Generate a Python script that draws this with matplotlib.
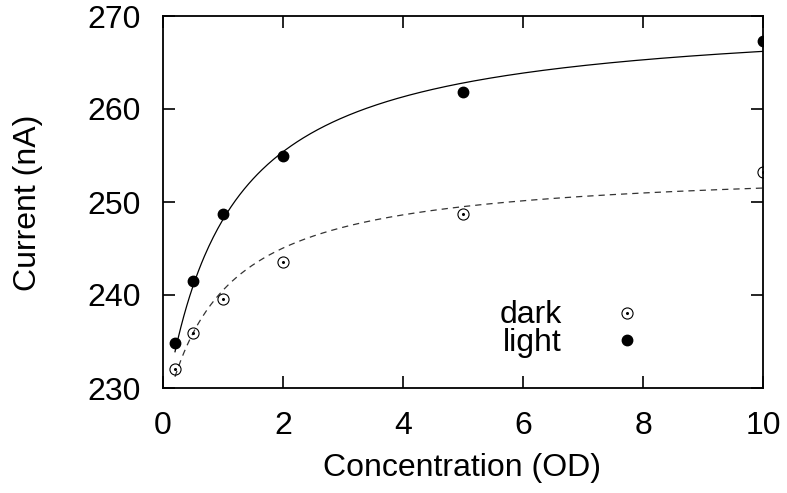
import numpy as np
import matplotlib
matplotlib.use("Agg")
import matplotlib.pyplot as plt

plt.rcParams["font.family"] = ["Liberation Sans", "DejaVu Sans"]

# measured points
conc = [0.2, 0.5, 1.0, 2.0, 5.0, 10.0]
dark = [232.0, 235.9, 239.6, 243.5, 248.7, 253.2]
light = [234.8, 241.5, 248.7, 254.9, 261.8, 267.3]
key_labels = ["dark", "light"]

# saturation fits  y = y0 + A*x/(K+x)
fit_light = (226.95, 43.36, 1.048)
fit_dark = (226.43, 27.45, 0.949)


def sat(x, y0, a, k):
    return y0 + a * x / (k + x)


W, H = 787, 493
fig = plt.figure(figsize=(W / 100, H / 100), dpi=100)
ax = fig.add_axes([163 / W, 1 - 388 / H, 600 / W, 372 / H])

xs = np.linspace(conc[0], conc[-1], 400)
ax.plot(xs, sat(xs, *fit_light), color="black", lw=0.9)
ax.plot(xs, sat(xs, *fit_dark), color="#333333", lw=0.9, dashes=(5, 4))

ax.plot(conc, light, "o", color="black", ms=7.5, ls="none")
ax.plot(conc, dark, "o", mfc="none", mec="black", mew=0.8, ms=8, ls="none")
ax.plot(conc, dark, "o", color="black", ms=1.2, ls="none")

# key: labels right-justified in one block, samples to the right
fs = 23
fig.text(562 / W, 1 - 329 / H, "\n".join(key_labels), ha="right", va="center",
         multialignment="right", linespacing=0.92, fontsize=fs)
kx = (627 - 163) / 600
ax.plot([kx], [(388 - 313) / 372], "o", mfc="none", mec="black", mew=0.8, ms=8,
        transform=ax.transAxes)
ax.plot([kx], [(388 - 313) / 372], "o", color="black", ms=1.2, transform=ax.transAxes)
ax.plot([kx], [(388 - 340) / 372], "o", color="black", ms=7.5, transform=ax.transAxes)

ax.set_xlim(0, 10)
ax.set_ylim(230, 270)
ax.set_xticks([0, 2, 4, 6, 8, 10])
ax.set_yticks([230, 240, 250, 260, 270])
ax.tick_params(direction="in", length=8.5, width=1.2, top=True, right=True,
               labelsize=fs)
ax.tick_params(axis="x", pad=16.5)
ax.tick_params(axis="y", pad=16)
for s in ax.spines.values():
    s.set_linewidth(1.3)

fig.text(462 / W, 1 - 468 / H, "Concentration (OD)", ha="center", va="center", fontsize=fs)
fig.text(28 / W, 1 - 203 / H, "Current (nA)", ha="center", va="center",
         rotation=90, fontsize=fs)

fig.savefig("out.png", dpi=100)
